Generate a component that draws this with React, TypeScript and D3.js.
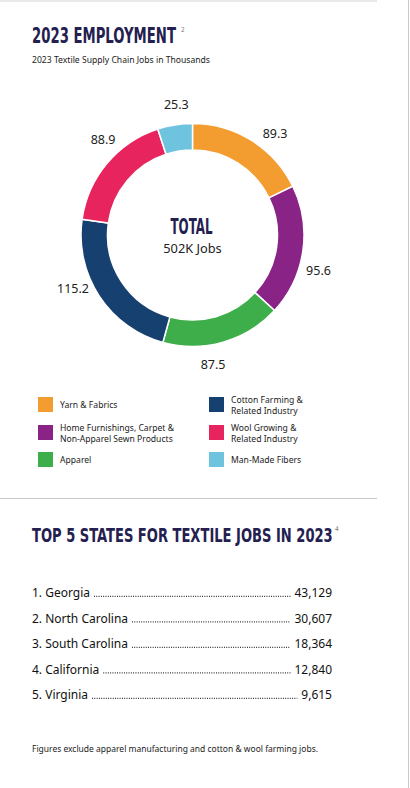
import React, { useEffect, useRef } from "react";
import * as d3 from "d3";

// donut data (thousands of jobs), clockwise from 12 o'clock
const sectors = [
  "Yarn & Fabrics",
  "Home Furnishings, Carpet & Non-Apparel Sewn Products",
  "Apparel",
  "Cotton Farming & Related Industry",
  "Wool Growing & Related Industry",
  "Man-Made Fibers",
];
const jobs = [89.3, 95.6, 87.5, 115.2, 88.9, 25.3];
const legendLines = [
  ["Yarn & Fabrics"],
  ["Home Furnishings, Carpet &", "Non-Apparel Sewn Products"],
  ["Apparel"],
  ["Cotton Farming &", "Related Industry"],
  ["Wool Growing &", "Related Industry"],
  ["Man-Made Fibers"],
];
const colors = ["#f39c2f", "#8a2386", "#3dae49", "#16406f", "#e8245e", "#6ec3df"];

// top states
const states = ["Georgia", "North Carolina", "South Carolina", "California", "Virginia"];
const stateJobs = [43129, 30607, 18364, 12840, 9615];

const NAVY = "#24204f";
const BODY_FONT = "'Noto Sans', 'Open Sans', sans-serif";
const HEAD_FONT = "'DejaVu Sans Condensed', 'Liberation Sans', sans-serif";

const App = () => {
  const svgRef = useRef(null);

  useEffect(() => {
    const W = 410,
      H = 788;
    const svg = d3.select(svgRef.current);
    svg.selectAll("*").remove();
    svg.attr("width", W).attr("height", H);

    // frame lines
    svg.append("line").attr("x1", 0).attr("x2", 377).attr("y1", 1).attr("y2", 1)
      .attr("stroke", "#d4d4d4").attr("stroke-width", 1.2);
    svg.append("line").attr("x1", 0).attr("x2", 377).attr("y1", 498.5).attr("y2", 498.5)
      .attr("stroke", "#c8c8c8").attr("stroke-width", 1.2);
    svg.append("line").attr("x1", 408.5).attr("x2", 408.5).attr("y1", 0).attr("y2", H)
      .attr("stroke", "#c8c8c8").attr("stroke-width", 1);

    // condensed bold text: squeeze horizontally to the wanted width
    const condensed = (parent, text, x, y, size, width, anchor = "start") => {
      const t = parent.append("text").text(text)
        .attr("font-family", HEAD_FONT).attr("font-weight", "bold")
        .attr("font-size", size).attr("fill", NAVY).attr("text-anchor", anchor);
      const k = width / t.node().getComputedTextLength();
      t.attr("transform", `translate(${x},${y}) scale(${k},1)`);
      return t;
    };
    const sup = (text, x, y) =>
      svg.append("text").attr("x", x).attr("y", y).text(text)
        .attr("font-family", HEAD_FONT).attr("font-size", 6.5).attr("fill", "#777");

    condensed(svg, "2023 EMPLOYMENT", 32, 42.5, 21, 144);
    sup("2", 181, 32);
    condensed(svg, "TOP 5 STATES FOR TEXTILE JOBS IN 2023", 32, 541.5, 19, 301);
    sup("4", 335, 531);

    svg.append("text").attr("x", 32).attr("y", 62.5)
      .text("2023 Textile Supply Chain Jobs in Thousands")
      .attr("font-family", BODY_FONT).attr("font-size", 9)
      .attr("fill", "#222").attr("textLength", 178).attr("lengthAdjust", "spacingAndGlyphs");

    // donut
    const cx = 192.5,
      cy = 235,
      rOuter = 111.5,
      rInner = 85;
    const g = svg.append("g").attr("transform", `translate(${cx},${cy})`);
    const pie = d3.pie().sort(null).value((d) => d);
    const arcs = pie(jobs);
    const arc = d3.arc().innerRadius(rInner).outerRadius(rOuter);
    const labelArc = d3.arc().innerRadius(131).outerRadius(131);
    // value labels sit a bit past the middle of each sector (clockwise)
    const labelPos = (d) => {
      const a = d.startAngle + 0.61 * (d.endAngle - d.startAngle);
      return labelArc.centroid({ startAngle: a, endAngle: a });
    };

    g.selectAll("path")
      .data(arcs)
      .join("path")
      .attr("d", arc)
      .attr("fill", (d, i) => colors[i])
      .attr("stroke", "#fff")
      .attr("stroke-width", 1.5);

    g.selectAll("text.val")
      .data(arcs)
      .join("text")
      .attr("class", "val")
      .attr("transform", (d) => `translate(${labelPos(d)})`)
      .attr("text-anchor", "middle")
      .attr("dy", "0.35em")
      .attr("font-family", BODY_FONT)
      .attr("font-size", 12.5)
      .attr("fill", "#222")
      .text((d) => d3.format(".1f")(d.data));

    condensed(g, "TOTAL", -1, -1, 21.5, 42, "middle");
    g.append("text").attr("y", 18).attr("text-anchor", "middle")
      .text(`${Math.round(d3.sum(jobs))}K Jobs`)
      .attr("font-family", BODY_FONT).attr("font-size", 12.8).attr("fill", "#222");

    // legend
    const legendRowY = [397, 425, 452];
    const legendColX = [38, 209];
    const leg = svg.append("g").selectAll("g")
      .data(sectors)
      .join("g")
      .attr("transform", (d, i) => `translate(${legendColX[Math.floor(i / 3)]},${legendRowY[i % 3]})`);
    leg.append("rect").attr("width", 15).attr("height", 15)
      .attr("fill", (d, i) => colors[i]);
    leg.each(function (d, i) {
      const lines = legendLines[i];
      const t = d3.select(this).append("text")
        .attr("font-family", BODY_FONT).attr("font-size", 8.6).attr("fill", "#222");
      const y0 = lines.length === 1 ? 11 : 5.5;
      lines.forEach((l, k) => {
        t.append("tspan").attr("x", 22).attr("y", y0 + k * 11.5).text(l);
      });
    });

    // state list
    const rowY = d3.scalePoint().domain(states).range([597, 699]);
    const right = 332;
    const rows = svg.append("g").selectAll("g").data(states).join("g")
      .attr("transform", (d) => `translate(0,${rowY(d)})`);
    rows.each(function (d, i) {
      const row = d3.select(this);
      const name = row.append("text").attr("x", 32).text(`${i + 1}. ${d}`)
        .attr("font-family", BODY_FONT).attr("font-size", 12).attr("fill", "#111");
      const val = row.append("text").attr("x", right).attr("text-anchor", "end")
        .text(d3.format(",")(stateJobs[i]))
        .attr("font-family", BODY_FONT).attr("font-size", 12).attr("fill", "#111");
      const x0 = 32 + name.node().getComputedTextLength() + 4;
      const x1 = right - val.node().getComputedTextLength() - 4;
      row.append("line").attr("x1", x0).attr("x2", x1).attr("y1", -0.6).attr("y2", -0.6)
        .attr("stroke", "#222").attr("stroke-width", 1.1)
        .attr("stroke-dasharray", "0.9 1.4");
    });

    svg.append("text").attr("x", 32).attr("y", 752)
      .text("Figures exclude apparel manufacturing and cotton & wool farming jobs.")
      .attr("font-family", BODY_FONT).attr("font-size", 8.6).attr("fill", "#222")
      .attr("textLength", 286).attr("lengthAdjust", "spacingAndGlyphs");
  }, []);

  return (
    <svg ref={svgRef} style={{ position: "absolute", left: 0, top: 0, background: "#fff" }}></svg>
  );
};

export default App;
